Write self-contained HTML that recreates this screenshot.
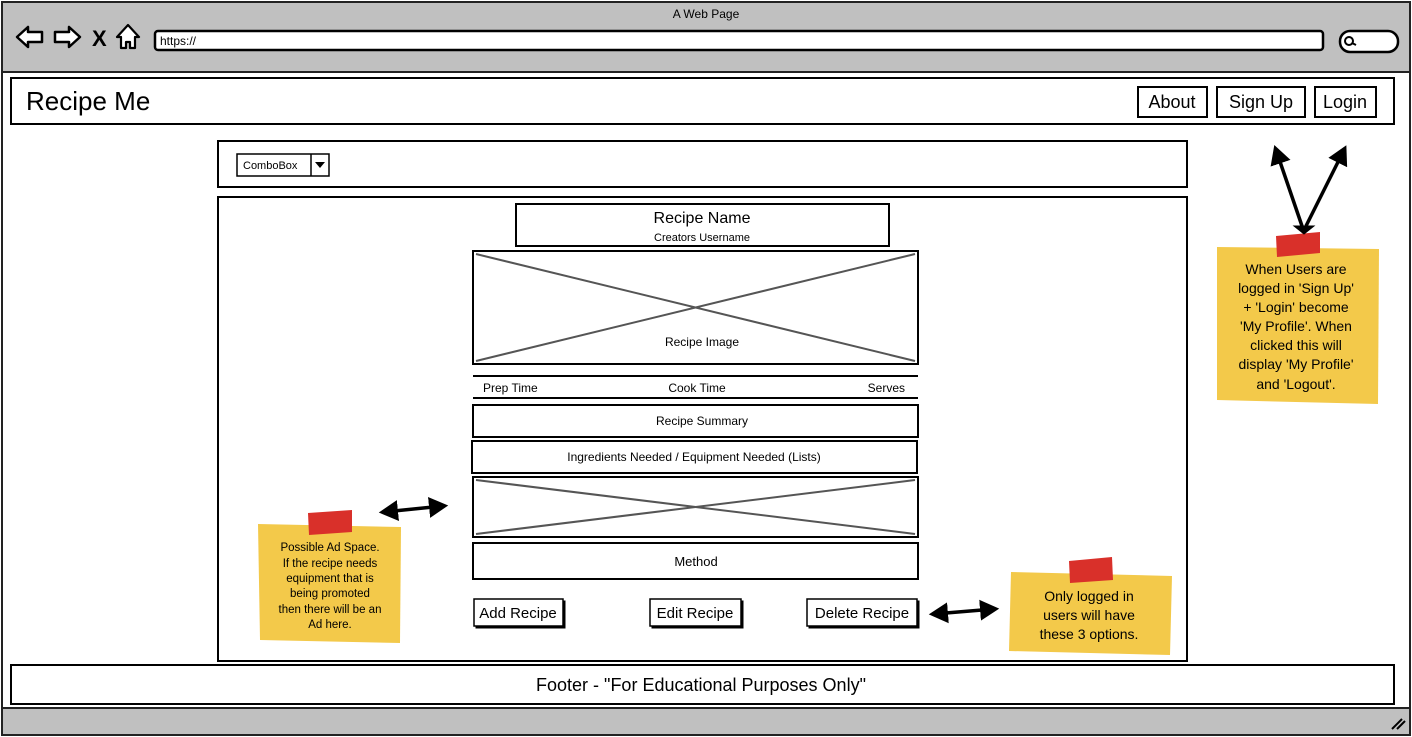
<!DOCTYPE html>
<html><head><meta charset="utf-8"><style>
html,body{margin:0;padding:0;background:#fff;}
svg{display:block;font-family:"Liberation Sans",sans-serif;}
</style></head><body>
<svg width="1412" height="737" viewBox="0 0 1412 737" xmlns="http://www.w3.org/2000/svg">
<defs>
<marker id="ah" markerWidth="6" markerHeight="6" refX="4" refY="3" orient="auto-start-reverse" markerUnits="strokeWidth">
<path d="M0,0 L5.5,3 L0,6 Z" fill="#000"/></marker>
</defs>
<rect x="2" y="2" width="1408" height="733" fill="#fff" stroke="#222" stroke-width="2"/>
<rect x="3" y="3" width="1406" height="69" fill="#c0c0c0"/>
<line x1="2" y1="72" x2="1410" y2="72" stroke="#222" stroke-width="2"/>
<rect x="3" y="708" width="1406" height="26" fill="#c0c0c0"/>
<line x1="2" y1="708" x2="1410" y2="708" stroke="#222" stroke-width="2"/>
<text x="706" y="18" font-size="12" text-anchor="middle">A Web Page</text>
<path d="M17,37 L28,27 L28,32 L42,32 L42,42 L28,42 L28,47 Z" fill="#fff" stroke="#000" stroke-width="2.5" stroke-linejoin="round"/>
<path d="M80,37 L69,27 L69,32 L55,32 L55,42 L69,42 L69,47 Z" fill="#fff" stroke="#000" stroke-width="2.5" stroke-linejoin="round"/>
<text x="92" y="46" font-size="22" font-weight="bold">X</text>
<path d="M128,25 L139,37 L135,37 L135,48 L130,48 L130,42 L126,42 L126,48 L121,48 L121,37 L117,37 Z" fill="#fff" stroke="#000" stroke-width="2.2" stroke-linejoin="round"/>
<rect x="155" y="31" width="1168" height="19" rx="3" fill="#fff" stroke="#000" stroke-width="2.5"/>
<text x="160" y="45" font-size="12">https://</text>
<rect x="1340" y="31" width="58" height="21" rx="10" fill="#fff" stroke="#000" stroke-width="2.5"/>
<circle cx="1349" cy="41" r="4" fill="none" stroke="#000" stroke-width="2"/>
<line x1="1352" y1="43" x2="1356" y2="45" stroke="#000" stroke-width="2"/>
<rect x="11" y="78" width="1383" height="46" fill="#fff" stroke="#000" stroke-width="2"/>
<text x="26" y="110" font-size="26">Recipe Me</text>
<rect x="1138" y="87" width="69" height="30" fill="#fff" stroke="#000" stroke-width="2"/>
<text x="1172" y="108" font-size="18" text-anchor="middle">About</text>
<rect x="1217" y="87" width="88" height="30" fill="#fff" stroke="#000" stroke-width="2"/>
<text x="1261" y="108" font-size="18" text-anchor="middle">Sign Up</text>
<rect x="1315" y="87" width="61" height="30" fill="#fff" stroke="#000" stroke-width="2"/>
<text x="1345" y="108" font-size="18" text-anchor="middle">Login</text>
<rect x="218" y="141" width="969" height="46" fill="#fff" stroke="#000" stroke-width="2"/>
<rect x="237" y="154" width="92" height="22" fill="#fff" stroke="#000" stroke-width="1.5"/>
<line x1="311" y1="154" x2="311" y2="176" stroke="#000" stroke-width="1.5"/>
<text x="243" y="169" font-size="11">ComboBox</text>
<path d="M315,162 L325,162 L320,168 Z" fill="#000"/>
<rect x="218" y="197" width="969" height="464" fill="#fff" stroke="#000" stroke-width="2"/>
<rect x="516" y="204" width="373" height="42" fill="#fff" stroke="#000" stroke-width="2"/>
<text x="702" y="223" font-size="16" text-anchor="middle">Recipe Name</text>
<text x="702" y="241" font-size="11" text-anchor="middle">Creators Username</text>
<rect x="473" y="251" width="445" height="113" fill="#fff" stroke="#000" stroke-width="2"/>
<line x1="476" y1="254" x2="915" y2="361" stroke="#555" stroke-width="2"/>
<line x1="915" y1="254" x2="476" y2="361" stroke="#555" stroke-width="2"/>
<text x="702" y="346" font-size="12" text-anchor="middle">Recipe Image</text>
<line x1="473" y1="376" x2="918" y2="376" stroke="#000" stroke-width="2"/>
<line x1="473" y1="398" x2="918" y2="398" stroke="#000" stroke-width="2"/>
<text x="483" y="392" font-size="12">Prep Time</text>
<text x="697" y="392" font-size="12" text-anchor="middle">Cook Time</text>
<text x="905" y="392" font-size="12" text-anchor="end">Serves</text>
<rect x="473" y="405" width="445" height="32" fill="#fff" stroke="#000" stroke-width="2"/>
<text x="702" y="425" font-size="12" text-anchor="middle">Recipe Summary</text>
<rect x="472" y="441" width="445" height="32" fill="#fff" stroke="#000" stroke-width="2"/>
<text x="694" y="461" font-size="12" text-anchor="middle">Ingredients Needed / Equipment Needed (Lists)</text>
<rect x="473" y="477" width="445" height="60" fill="#fff" stroke="#000" stroke-width="2"/>
<line x1="476" y1="480" x2="915" y2="534" stroke="#555" stroke-width="2"/>
<line x1="915" y1="480" x2="476" y2="534" stroke="#555" stroke-width="2"/>
<rect x="473" y="543" width="445" height="36" fill="#fff" stroke="#000" stroke-width="2"/>
<text x="696" y="566" font-size="13" text-anchor="middle">Method</text>
<g stroke="#000">
<rect x="476" y="601" width="89" height="27" fill="#000"/>
<rect x="474" y="599" width="89" height="27" fill="#fff" stroke-width="1.5"/>
<rect x="652" y="601" width="91" height="27" fill="#000"/>
<rect x="650" y="599" width="91" height="27" fill="#fff" stroke-width="1.5"/>
<rect x="809" y="601" width="110" height="27" fill="#000"/>
<rect x="807" y="599" width="110" height="27" fill="#fff" stroke-width="1.5"/>
</g>
<text x="518" y="618" font-size="15" text-anchor="middle">Add Recipe</text>
<text x="695" y="618" font-size="15" text-anchor="middle">Edit Recipe</text>
<text x="862" y="618" font-size="15" text-anchor="middle">Delete Recipe</text>
<rect x="11" y="665" width="1383" height="39" fill="#fff" stroke="#000" stroke-width="2"/>
<text x="701" y="691" font-size="18" text-anchor="middle">Footer - "For Educational Purposes Only"</text>
<polygon points="258,524 401,527 400,643 260,640" fill="#f3c94a"/>
<polygon points="308,513 352,510 352,532 309,535" fill="#d9302a"/>
<g font-size="11.5" text-anchor="middle">
<text x="330" y="551">Possible Ad Space.</text>
<text x="330" y="567">If the recipe needs</text>
<text x="330" y="582">equipment that is</text>
<text x="330" y="597">being promoted</text>
<text x="330" y="613">then there will be an</text>
<text x="330" y="628">Ad here.</text>
</g>
<polygon points="1011,572 1172,576 1170,655 1009,651" fill="#f3c94a"/>
<polygon points="1069,561 1112,557 1113,580 1070,583" fill="#d9302a"/>
<g font-size="14" text-anchor="middle">
<text x="1089" y="601">Only logged in</text>
<text x="1089" y="620">users will have</text>
<text x="1089" y="639">these 3 options.</text>
</g>
<polygon points="1217,247 1379,249 1378,404 1217,400" fill="#f3c94a"/>
<polygon points="1276,236 1320,232 1320,253 1277,257" fill="#d9302a"/>
<g font-size="14" text-anchor="middle">
<text x="1296" y="274">When Users are</text>
<text x="1296" y="293">logged in 'Sign Up'</text>
<text x="1296" y="312">+ 'Login' become</text>
<text x="1296" y="331">'My Profile'. When</text>
<text x="1296" y="350">clicked this will</text>
<text x="1296" y="369">display 'My Profile'</text>
<text x="1296" y="389">and 'Logout'.</text>
</g>
<g stroke="#000" stroke-width="3.5" fill="none">
<line x1="384" y1="512" x2="443" y2="506" marker-start="url(#ah)" marker-end="url(#ah)"/>
<line x1="934" y1="614" x2="994" y2="609" marker-start="url(#ah)" marker-end="url(#ah)"/>
<line x1="1302" y1="226" x2="1276" y2="150" marker-end="url(#ah)"/>
<line x1="1306" y1="226" x2="1344" y2="150" marker-end="url(#ah)"/>
<path d="M1294,226 L1314,226 L1304,234 Z" fill="#000" stroke-width="1"/>
</g>
<g stroke="#000" stroke-width="2">
<line x1="1392" y1="729" x2="1402" y2="719"/>
<line x1="1397" y1="729" x2="1405" y2="721"/>
</g>
</svg>
</body></html>
